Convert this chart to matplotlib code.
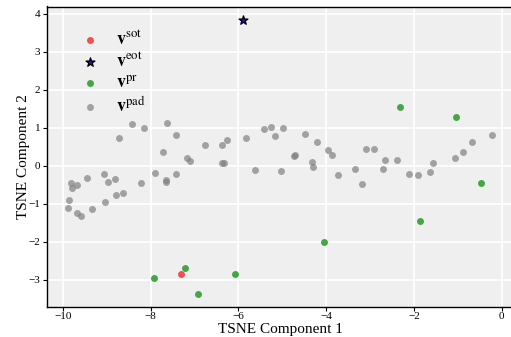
import matplotlib
matplotlib.use("Agg")
import matplotlib.pyplot as plt

plt.rcParams['font.family'] = 'serif'
plt.rcParams['font.serif'] = ['Liberation Serif', 'DejaVu Serif']
plt.rcParams['mathtext.fontset'] = 'stix'

# t-SNE coordinates
sot_x = [-7.30]
sot_y = [-2.84]

eot_x = [-5.90]
eot_y = [3.83]

pr_x = [-7.92, -7.21, -6.08, -6.91, -2.32, -1.04, -0.46, -1.85, -4.05]
pr_y = [-2.96, -2.68, -2.85, -3.37, 1.54, 1.27, -0.46, -1.46, -2.00]

pad_x = [-8.42, -8.16, -7.62, -8.71, -7.41, -6.75, -6.38, -6.26, -5.83, -5.41,
         -5.25, -5.16, -4.98, -7.71, -7.18, -7.09, -6.38, -6.33, -5.61, -5.03,
         -9.82, -9.67, -9.79, -9.45, -9.05, -8.98, -8.82, -8.22, -7.89, -7.65,
         -7.65, -7.43, -9.86, -9.87, -9.68, -9.58, -9.34, -9.03, -8.79, -8.62,
         -4.47, -4.21, -3.96, -3.86, -4.70, -4.72, -4.33, -4.30, -3.73, -3.08,
         -2.91, -2.65, -2.39, -3.34, -3.18, -2.70, -2.12, -1.91, -1.63, -1.56,
         -1.06, -0.88, -0.68, -0.21]
pad_y = [1.09, 0.98, 1.12, 0.72, 0.80, 0.55, 0.54, 0.68, 0.73, 0.96,
         1.01, 0.77, 1.00, 0.37, 0.19, 0.12, 0.06, 0.06, -0.11, -0.13,
         -0.45, -0.50, -0.59, -0.33, -0.23, -0.43, -0.36, -0.46, -0.20, -0.38,
         -0.42, -0.23, -0.89, -1.12, -1.25, -1.32, -1.13, -0.96, -0.76, -0.71,
         0.83, 0.62, 0.41, 0.28, 0.27, 0.26, 0.09, -0.03, -0.24, 0.45,
         0.44, 0.16, 0.14, -0.09, -0.47, -0.08, -0.23, -0.25, -0.17, 0.08,
         0.19, 0.35, 0.62, 0.82]

fig = plt.figure(figsize=(5.11, 3.37), dpi=100)
W, H = 511, 337
ax = fig.add_axes([47.3 / W, (H - 307.4) / H, (513.6 - 47.3) / W, (307.4 - 6.5) / H])
ax.set_facecolor('#efefef')
ax.grid(True, color='white', linewidth=1.2)
ax.set_axisbelow(True)

ax.scatter(sot_x, sot_y, s=25, color='#f54545', alpha=0.95, linewidths=0,
           label=r'$\mathbf{v}^{\rm sot}$')
ax.scatter(eot_x, eot_y, s=45, marker='*', color='#1a1acc', edgecolors='black',
           linewidths=0.9, label=r'$\mathbf{v}^{\rm eot}$')
ax.scatter(pr_x, pr_y, s=25, color='#3aa33a', alpha=0.95, linewidths=0,
           label=r'$\mathbf{v}^{\rm pr}$')
ax.scatter(pad_x, pad_y, s=25, color='#808080', alpha=0.7, linewidths=0,
           label=r'$\mathbf{v}^{\rm pad}$')

ax.set_xticks([-10, -8, -6, -4, -2, 0])
ax.set_yticks([-3, -2, -1, 0, 1, 2, 3, 4])
ax.tick_params(labelsize=8, length=3, width=0.8, color='black', pad=2)
ax.tick_params(axis='x', pad=0.5)
ax.set_xlabel('TSNE Component 1', fontsize=11, labelpad=1.5)
ax.set_ylabel('TSNE Component 2', fontsize=11, labelpad=-1)
for sp in ax.spines.values():
    sp.set_color('black')
    sp.set_linewidth(1.0)

ax.legend(loc='upper left', bbox_to_anchor=(0.0364, 0.943), frameon=False,
          fontsize=13, handletextpad=0.49, labelspacing=0.22, borderaxespad=0)

fig.savefig('out.png', dpi=100)
